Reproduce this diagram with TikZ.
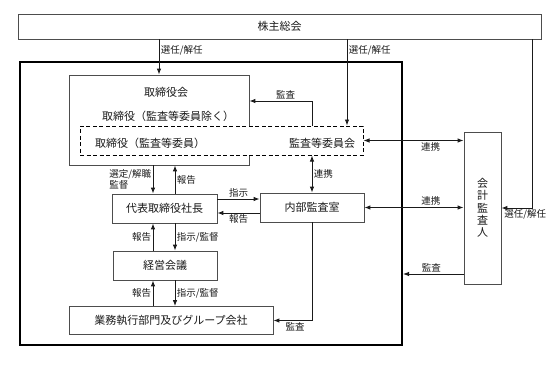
\documentclass[tikz,border=0pt]{standalone}
\usepackage{fontspec}
\setmainfont{Noto Sans CJK JP}
\usetikzlibrary{arrows.meta}
\definecolor{orgLine}{HTML}{4D4D4D}
\definecolor{orgInk}{HTML}{1A1A1A}
\tikzset{
  orgbox/.style={
    draw=orgLine,
    line width=0.8pt,
    fill=white,
    inner sep=0pt,
    align=center,
    text=orgInk,
    font=\fontsize{11}{13}\selectfont
  },
  orgframe/.style={draw=black, line width=2pt, inner sep=0pt},
  orgdash/.style={draw=black, line width=1pt, dash pattern=on 4pt off 2.5pt, fill=white, inner sep=0pt},
  orgarr/.style={-{Latex[length=6pt,width=4.5pt]}, line width=0.9pt, draw=orgInk},
  orgbi/.style={{Latex[length=6pt,width=4.5pt]}-{Latex[length=6pt,width=4.5pt]}, line width=0.9pt, draw=orgInk},
  orglbl/.style={font=\fontsize{9.5}{11}\selectfont, text=orgInk, inner sep=1.5pt},
  orgtxt/.style={font=\fontsize{11}{13}\selectfont, text=orgInk, inner sep=0pt}
}
\begin{document}
\begin{tikzpicture}[x=1pt, y=-1pt]
  \useasboundingbox (0,0) rectangle (560,368);

  \node[orgbox, minimum width=523, minimum height=25] (kabunushi) at (279.5,26.5) {株主総会};
  \node[orgframe, minimum width=382, minimum height=283] (outer) at (211,203.5) {};

  \node[orgbox, minimum width=180, minimum height=90] (board) at (159,120) {};
  \node[orgtxt] (boardT) at (166,92) {取締役会};
  \node[orgtxt] (boardX) at (168,116) {取締役（監査等委員除く）};
  \node[orgdash, minimum width=283, minimum height=29] (audcom) at (221.5,140.5) {};
  \node[orgtxt] (audDir) at (150,143) {取締役（監査等委員）};
  \node[orgtxt] (audComT) at (322,143) {監査等委員会};

  \node[orgbox, minimum width=105, minimum height=29] (president) at (164.5,208.5) {代表取締役社長};
  \node[orgbox, minimum width=104, minimum height=29] (internal) at (312,207.5) {内部監査室};
  \node[orgbox, minimum width=104, minimum height=29] (mgmt) at (165,265.5) {経営会議};
  \node[orgbox, minimum width=204, minimum height=28] (business) at (171,320.5) {業務執行部門及びグループ会社};
  \node[orgbox, minimum width=37, minimum height=152, font=\fontsize{11}{12.3}\selectfont] (auditor) at (482.5,208) {会\\計\\監\\査\\人};

  \coordinate (colL) at (153,0);
  \coordinate (colR) at (175,0);
  \coordinate (colA) at (347,0);
  \coordinate (colE) at (532,0);
  \coordinate (rowK) at (312,101);
  \coordinate (rowI) at (0,199);
  \coordinate (rowH) at (0,213);
  \coordinate (rowA) at (0,274);

  \draw[orgarr] (kabunushi.south -| board.north) -- (board.north)
    node[orglbl, pos=0.3, right] {選任/解任};
  \draw[orgarr] (kabunushi.south -| colA) -- (audcom.north -| colA)
    node[orglbl, pos=0.13, right] {選任/解任};
  \draw[orgarr] (kabunushi.south -| colE) |- (auditor.east)
    node[orglbl, pos=0.61, below] {選任/解任};

  \draw[orgarr] (audcom.north -| rowK) |- (board.east |- rowK)
    node[orglbl, pos=0.71, above] {監査};
  \draw[orgbi] (audcom.east) -- (auditor.west |- audcom.east)
    node[orglbl, pos=0.67, below] {連携};
  \draw[orgbi] (audcom.south -| internal.north) -- (internal.north)
    node[orglbl, midway, right] {連携};
  \draw[orgbi] (internal.east) -- (auditor.west |- internal.east)
    node[orglbl, pos=0.67, above] {連携};
  \draw[orgarr] (auditor.west |- rowA) -- (outer.east |- rowA)
    node[orglbl, pos=0.53, above] {監査};
  \draw[orgarr] (internal.south) |- (business.east)
    node[orglbl, pos=0.72, below] {監査};

  \draw[orgarr] (board.south -| colL) -- (president.north -| colL)
    node[orglbl, midway, left, align=left] {選定/解職\\監督};
  \draw[orgarr] (president.north -| colR) -- (board.south -| colR)
    node[orglbl, midway, right] {報告};
  \draw[orgarr] (president.east |- rowI) -- (internal.west |- rowI)
    node[orglbl, midway, above] {指示};
  \draw[orgarr] (internal.west |- rowH) -- (president.east |- rowH)
    node[orglbl, midway, below] {報告};

  \draw[orgarr] (mgmt.north -| colL) -- (president.south -| colL)
    node[orglbl, midway, left] {報告};
  \draw[orgarr] (president.south -| colR) -- (mgmt.north -| colR)
    node[orglbl, midway, right] {指示/監督};
  \draw[orgarr] (business.north -| colL) -- (mgmt.south -| colL)
    node[orglbl, midway, left] {報告};
  \draw[orgarr] (mgmt.south -| colR) -- (business.north -| colR)
    node[orglbl, midway, right] {指示/監督};
\end{tikzpicture}
\end{document}
